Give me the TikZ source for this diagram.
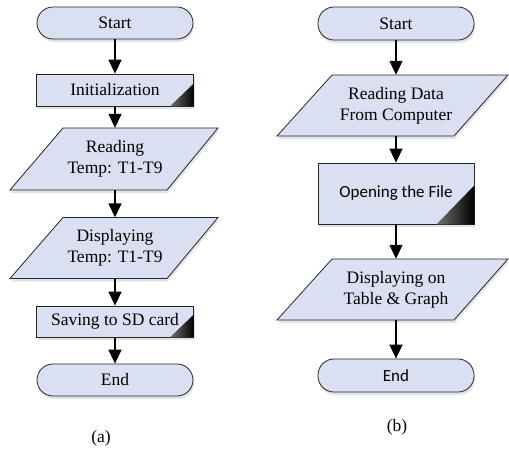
\documentclass[tikz,border=0pt]{standalone}
\usepackage{fontspec}
\setmainfont{Liberation Serif}
\newfontfamily\sansf{Carlito}
\usetikzlibrary{arrows.meta,shadows,backgrounds}
\definecolor{boxfill}{RGB}{218,224,242}
\begin{document}
\begin{tikzpicture}[x=1pt,y=-1pt,
  txt/.style={font=\fontsize{17.5}{21}\selectfont, align=center, inner sep=0pt},
  sanstxt/.style={font=\sansf\fontsize{17}{21}\selectfont},
  shad/.style={drop shadow={shadow xshift=1pt,shadow yshift=-3pt,opacity=0.22,fill=black!50}},
  outline/.style={draw=black!85, line width=0.8pt, fill=boxfill},
  term/.style={txt, outline, shad, rectangle, rounded corners=16pt, minimum width=156pt, minimum height=32pt},
  proc/.style={txt, outline, shad, rectangle, minimum width=157pt, minimum height=32pt},
  iotext/.style={txt, minimum width=150pt, minimum height=61pt},
  flow/.style={draw=black, line width=1.5pt, -{Triangle[length=14pt,width=13pt]}},
  cornermark/.style={left color=black!55, right color=black}
]
\useasboundingbox (0,0) rectangle (509,448);

% ---------- (a) ----------
\node[term] (sa) at (115,23) {Start};
\node[proc] (ia) at (115,90) {Initialization};
\node[iotext, minimum height=62pt] (ra) at (115,159) {Reading\\Temp: T1-T9};
\node[iotext] (da) at (115,248) {Displaying\\Temp: T1-T9};
\node[proc, minimum height=31pt] (va) at (115,321.5) {Saving to SD card};
\node[term] (ea) at (115,380) {End};
\node[txt] (la) at (101,438) {(a)};

% ---------- (b) ----------
\node[term, minimum height=33pt] (sb) at (396,23.5) {Start};
\node[iotext] (rb) at (396,105.5) {Reading Data\\From Computer};
\node[proc, sanstxt, minimum width=156pt, minimum height=61pt] (ob) at (396,193.5) {Opening the File};
\node[iotext] (db) at (396,289.5) {Displaying on\\Table \& Graph};
\node[term, sanstxt, minimum height=33pt] (eb) at (396,375.5) {End};
\node[txt] (lb) at (397,427) {(b)};

% parallelograms behind the texts
\begin{scope}[on background layer]
  \filldraw[outline, shad] ([shift={(-52,-31)}]ra.center) -- ([shift={(103,-31)}]ra.center)
     -- ([shift={(52,31)}]ra.center) -- ([shift={(-105,31)}]ra.center) -- cycle;
  \filldraw[outline, shad] ([shift={(-52,-30.5)}]da.center) -- ([shift={(103,-30.5)}]da.center)
     -- ([shift={(52,30.5)}]da.center) -- ([shift={(-105,30.5)}]da.center) -- cycle;
  \filldraw[outline, shad] ([shift={(-64,-30.5)}]rb.center) -- ([shift={(112,-30.5)}]rb.center)
     -- ([shift={(58,30.5)}]rb.center) -- ([shift={(-119,30.5)}]rb.center) -- cycle;
  \filldraw[outline, shad] ([shift={(-64,-30.5)}]db.center) -- ([shift={(112,-30.5)}]db.center)
     -- ([shift={(58,30.5)}]db.center) -- ([shift={(-119,30.5)}]db.center) -- cycle;
\end{scope}

% corner marks of the process boxes
\shade[cornermark] (ia.south east) -- ++(0,-23) -- ++(-24,23) -- cycle;
\shade[cornermark] (va.south east) -- ++(0,-23) -- ++(-24,23) -- cycle;
\shade[cornermark] (ob.south east) -- ++(0,-39) -- ++(-38,39) -- cycle;

% connectors
\draw[flow] (sa) -- (ia);
\draw[flow] (ia) -- (ra);
\draw[flow] (ra) -- (da);
\draw[flow] (da) -- (va);
\draw[flow] (va) -- (ea);
\draw[flow] (sb) -- (rb);
\draw[flow] (rb) -- (ob);
\draw[flow] (ob) -- (db);
\draw[flow] (db) -- (eb);
\end{tikzpicture}
\end{document}
